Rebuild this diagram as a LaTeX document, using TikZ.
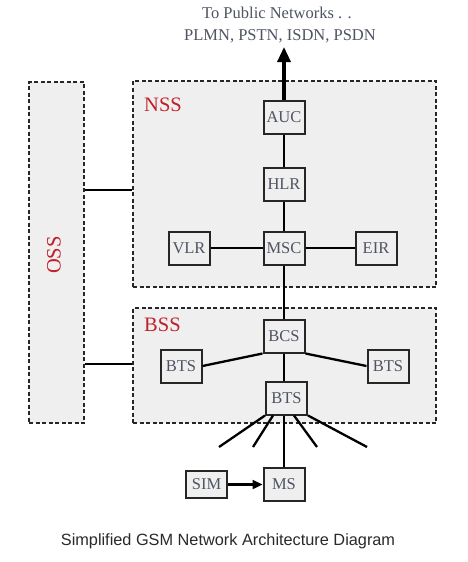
\documentclass[tikz,border=0pt]{standalone}
\usepackage{fontspec}
\setmainfont{Liberation Serif}
\newfontfamily\capfont{Liberation Sans}
\usetikzlibrary{arrows.meta,calc}
\definecolor{grpfill}{HTML}{EFEFEF}
\definecolor{boxtext}{HTML}{4F5462}
\definecolor{lblred}{HTML}{C0202A}
\definecolor{captext}{HTML}{2A2A2A}
\tikzset{
  grp/.style={draw=black!85, dash pattern=on 4pt off 2.5pt, line width=1.4pt, fill=grpfill, inner sep=0pt},
  unit/.style={draw=black!85, line width=2pt, fill=grpfill, inner sep=0pt,
    minimum width=41pt, minimum height=33pt, text=boxtext, font=\fontsize{16.5}{18}\selectfont},
  grplabel/.style={text=lblred, font=\fontsize{20.5}{22}\selectfont, inner sep=0pt},
  link/.style={draw=black, line width=2.3pt},
  toptext/.style={text=boxtext, font=\fontsize{16.5}{18}\selectfont, inner sep=0pt}
}
\begin{document}
\begin{tikzpicture}[x=1pt,y=-1pt]
\useasboundingbox[fill=white] (0,0) rectangle (467,562);
% group boxes
\node[grp, minimum width=55pt, minimum height=341pt] (oss) at (56.5,252.5) {};
\node[grp, minimum width=303pt, minimum height=206pt] (nss) at (284.5,184) {};
\node[grp, minimum width=303pt, minimum height=115pt] (bss) at (284.5,365.5) {};
\node[grplabel, rotate=90] (osslbl) at (54,255) {OSS};
\node[grplabel, anchor=west] (nsslbl) at (144,105) {NSS};
\node[grplabel, anchor=west] (bsslbl) at (144,325) {BSS};
% OSS links
\draw[link] (oss.east |- 0,190) -- (nss.west |- 0,190);
\draw[link] (oss.east |- 0,364) -- (bss.west |- 0,364);
% NSS units
\node[unit] (auc) at (284,117) {AUC};
\node[unit] (hlr) at (284,184) {HLR};
\node[unit] (msc) at (284,248) {MSC};
\node[unit] (vlr) at (189,248) {VLR};
\node[unit] (eir) at (376,248) {EIR};
% BSS units
\node[unit] (bcs) at (284,336) {BCS};
\node[unit] (btsl) at (181,366) {BTS};
\node[unit] (btsr) at (388,366) {BTS};
\node[unit] (btsc) at (286.5,398) {BTS};
% mobile
\node[unit] (ms) at (284,484.5) {MS};
\node[unit, minimum height=27pt] (sim) at (206.5,484.5) {SIM};
% top text
\node[toptext] (pub1) at (277,13) {To Public Networks . .};
\node[toptext] (pub2) at (280,36) {PLMN, PSTN, ISDN, PSDN};
\coordinate (up) at (284,47);
% links
\draw[line width=3.2pt, -{Triangle[length=15pt,width=13pt]}] (auc.north) -- (up);
\draw[link] (auc.south) -- (hlr.north);
\draw[link] (hlr.south) -- (msc.north);
\draw[link] (vlr.east) -- (msc.west);
\draw[link] (msc.east) -- (eir.west);
\draw[link] (msc.south) -- (bcs.north);
\draw[link] (bcs.south west) -- (btsl.east);
\draw[link] (bcs.south east) -- (btsr.west);
\draw[link] (bcs.south) -- (bcs.south |- btsc.north);
% antennas
\coordinate (a1) at (219,447);
\coordinate (a2) at (253,447);
\coordinate (a3) at (317,447);
\coordinate (a4) at (367,447);
\draw[link] (btsc.south west) -- (a1);
\draw[link] ($(btsc.south)+(-13.5,0)$) -- (a2);
\draw[link] ($(btsc.south)+(7.5,0)$) -- (a3);
\draw[link] (btsc.south east) -- (a4);
\draw[link] (ms.north |- btsc.south) -- (ms.north);
\draw[line width=2.3pt, -{Triangle[length=10pt,width=9pt]}] (sim.east) -- (ms.west);
% caption
\node[text=captext, font=\capfont\fontsize{16.3}{18}\selectfont, inner sep=0pt] (cap) at (228,541) {Simplified GSM Network Architecture Diagram};
\end{tikzpicture}
\end{document}
